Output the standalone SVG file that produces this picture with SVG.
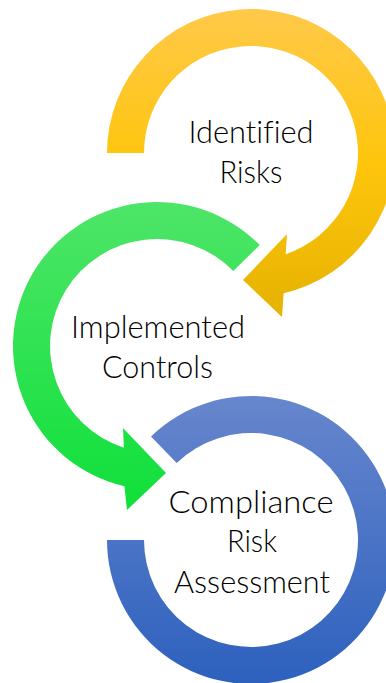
<svg xmlns="http://www.w3.org/2000/svg" width="386" height="683" viewBox="0 0 386 683">
<defs>
<linearGradient id="gY" x1="0" y1="0" x2="0" y2="1">
<stop offset="0" stop-color="#FFC94A"/>
<stop offset="0.5" stop-color="#FEC50C"/>
<stop offset="1" stop-color="#E6B200"/>
</linearGradient>
<linearGradient id="gG" x1="0" y1="0" x2="0" y2="1">
<stop offset="0" stop-color="#4EE568"/>
<stop offset="1" stop-color="#0FE03A"/>
</linearGradient>
<linearGradient id="gB" x1="0" y1="0" x2="0" y2="1">
<stop offset="0" stop-color="#6786CD"/>
<stop offset="1" stop-color="#2D61BE"/>
</linearGradient>
</defs>
<style>
.lbl{font-family:Lato,"Liberation Sans",sans-serif;font-size:32px;font-weight:300;font-variant-ligatures:none;fill:#000;text-anchor:middle}
</style>
<rect width="386" height="683" fill="#fff"/>
<g id="connectors">
<path id="arrow-yellow" fill="url(#gY)" d="M107,153 A144,144 0 1 1 283.6,293.3 L282,317 L243,280 L287,234 L285.7,254.2 A107,107 0 1 0 144,153 Z"/>
<path id="arrow-green" fill="url(#gG)" d="M259.7,245.1 A144,144 0 1 0 124.4,486.3 L127,510 L166,473 L123,428 L123.9,447.8 A107,107 0 1 1 233.3,271 Z"/>
<path id="ring-blue" fill="url(#gB)" d="M151,436.4 A144,144 0 1 1 107,540 L144,540 A107,107 0 1 0 176.7,463 Z"/>
</g>
<g id="node-identified-risks">
<text class="lbl" x="251" y="143" textLength="125" lengthAdjust="spacingAndGlyphs">Identified</text>
<text class="lbl" x="251" y="183" textLength="63" lengthAdjust="spacingAndGlyphs">Risks</text>
</g>
<g id="node-implemented-controls">
<text class="lbl" x="158" y="338" textLength="174" lengthAdjust="spacingAndGlyphs">Implemented</text>
<text class="lbl" x="157.5" y="378" textLength="111" lengthAdjust="spacingAndGlyphs">Controls</text>
</g>
<g id="node-compliance-risk-assessment">
<text class="lbl" x="251" y="513" textLength="165" lengthAdjust="spacingAndGlyphs">Compliance</text>
<text class="lbl" x="252" y="552" textLength="50" lengthAdjust="spacingAndGlyphs">Risk</text>
<text class="lbl" x="252" y="593" textLength="156" lengthAdjust="spacingAndGlyphs">Assessment</text>
</g>
</svg>
